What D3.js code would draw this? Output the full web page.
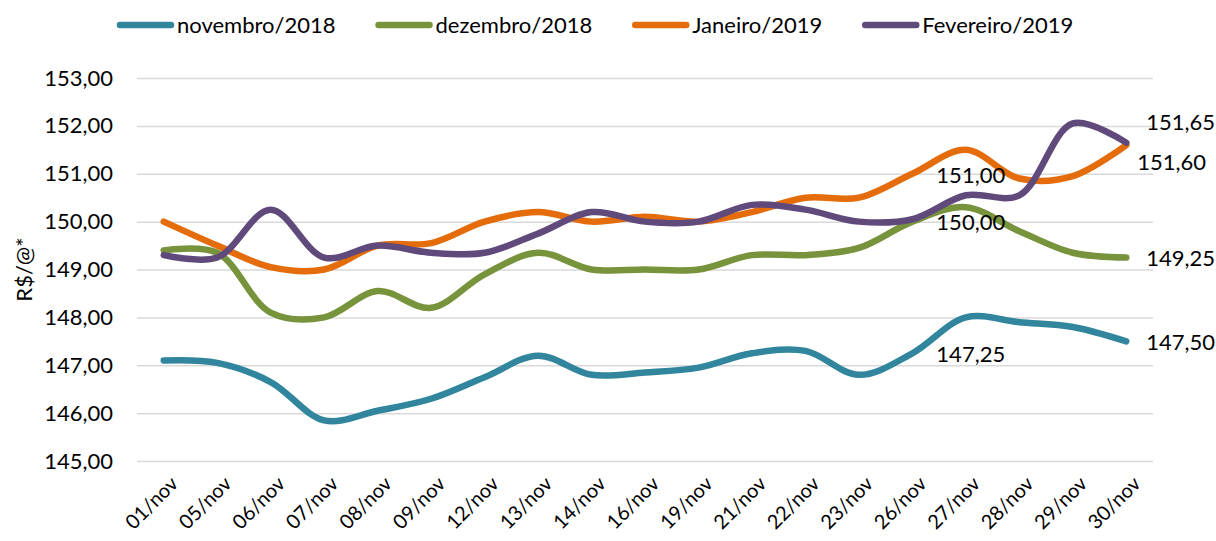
<!DOCTYPE html>
<html>
<head>
<meta charset="utf-8">
<script src="https://cdn.jsdelivr.net/npm/d3@7"></script>
<style>
  body { margin: 0; background: #fff; }
  svg text { font-family: Lato, "Noto Sans", sans-serif; fill: #000; }
</style>
</head>
<body>
<div id="chart"></div>
<script>
// categories (x axis)
var dias = ["01/nov", "05/nov", "06/nov", "07/nov", "08/nov", "09/nov", "12/nov", "13/nov", "14/nov", "16/nov",
    "19/nov", "21/nov", "22/nov", "23/nov", "26/nov", "27/nov", "28/nov", "29/nov", "30/nov"];

// series values, R$/@
var novembro2018 = [147.10, 147.05, 146.65, 145.85, 146.05, 146.30, 146.75, 147.20, 146.80, 146.85,
    146.95, 147.25, 147.30, 146.80, 147.25, 148.00, 147.90, 147.80, 147.50];
var dezembro2018 = [149.40, 149.35, 148.10, 148.00, 148.55, 148.20, 148.90, 149.35, 149.00, 149.00,
    149.00, 149.30, 149.30, 149.45, 150.00, 150.30, 149.80, 149.35, 149.25];
var janeiro2019 = [150.00, 149.50, 149.05, 149.00, 149.50, 149.55, 150.00, 150.20, 150.00, 150.10,
    150.00, 150.20, 150.50, 150.50, 151.00, 151.50, 150.90, 150.95, 151.60];
var fevereiro2019 = [149.30, 149.25, 150.25, 149.25, 149.50, 149.35, 149.35, 149.75, 150.20, 150.00,
    150.00, 150.35, 150.25, 150.00, 150.05, 150.55, 150.55, 152.05, 151.65];

// y tick values
var yTicks = [145, 146, 147, 148, 149, 150, 151, 152, 153];

var series = [
    { name: "novembro/2018", values: novembro2018, color: "#31859C" },
    { name: "dezembro/2018", values: dezembro2018, color: "#77933C" },
    { name: "Janeiro/2019", values: janeiro2019, color: "#E46C0A" },
    { name: "Fevereiro/2019", values: fevereiro2019, color: "#604A7B" }
];

// which points carry a data label (series index, point index, offsets)
var rotulos = [
    { s: 2, i: 14, dx: 24, dy: 2 },
    { s: 1, i: 14, dx: 24, dy: 1 },
    { s: 0, i: 14, dx: 24, dy: 1 },
    { s: 3, i: 18, dx: 20, dy: -20 },
    { s: 2, i: 18, dx: 11, dy: 17 },
    { s: 1, i: 18, dx: 20, dy: 1 },
    { s: 0, i: 18, dx: 20, dy: 1 }
];

var W = 1216, H = 541;
var margin = { left: 137, right: 1153, top: 78, bottom: 461 };
var fonte = "Lato, 'Noto Sans', sans-serif";

var br = d3.formatLocale({ decimal: ",", thousands: ".", grouping: [3], currency: ["R$", ""] });
var fmt = br.format(".2f");

var svg = d3.select("#chart").append("svg")
    .attr("width", W)
    .attr("height", H);

var x = d3.scalePoint()
    .domain(dias)
    .range([margin.left, margin.right])
    .padding(0.5);

var y = d3.scaleLinear()
    .domain([145, 153])
    .range([margin.bottom, margin.top]);

// Y axis with gridlines
var gy = svg.append("g")
    .attr("transform", "translate(" + margin.left + ",0)")
    .call(d3.axisLeft(y).tickValues(yTicks).tickFormat(fmt)
        .tickSize(-(margin.right - margin.left)).tickPadding(24));
gy.select(".domain").remove();
gy.selectAll(".tick line").attr("stroke", "#d9d9d9").attr("stroke-width", 1.5);
gy.selectAll(".tick text").attr("font-size", 22).attr("font-family", fonte);

// X axis
var gx = svg.append("g")
    .attr("transform", "translate(0," + margin.bottom + ")")
    .call(d3.axisBottom(x).tickSize(0));
gx.select(".domain").remove();
gx.selectAll(".tick text")
    .attr("font-size", 20)
    .attr("font-family", fonte)
    .attr("y", 0)
    .attr("dy", 0)
    .attr("transform", "translate(15,24)rotate(-45)")
    .style("text-anchor", "end");

// axis title
svg.append("text")
    .attr("transform", "translate(32," + ((margin.top + margin.bottom) / 2) + ")rotate(-90)")
    .attr("text-anchor", "middle")
    .attr("font-size", 22)
    .text("R$/@*");

// lines
var line = d3.line()
    .x(function (d, i) { return x(dias[i]); })
    .y(function (d) { return y(d); })
    .curve(d3.curveCatmullRom.alpha(0.5));

svg.selectAll(".serie")
    .data(series)
    .enter()
    .append("path")
    .attr("class", "serie")
    .attr("fill", "none")
    .attr("stroke", function (d) { return d.color; })
    .attr("stroke-width", 6.5)
    .attr("stroke-linecap", "round")
    .attr("stroke-linejoin", "round")
    .attr("d", function (d) { return line(d.values); });

// data labels
svg.selectAll(".rotulo")
    .data(rotulos)
    .enter()
    .append("text")
    .attr("class", "rotulo")
    .attr("x", function (d) { return x(dias[d.i]) + d.dx; })
    .attr("y", function (d) { return y(series[d.s].values[d.i]) + d.dy; })
    .attr("dy", "0.35em")
    .attr("font-size", 22)
    .text(function (d) { return fmt(series[d.s].values[d.i]); });

// legend
var legend = svg.append("g").attr("transform", "translate(117,25)");
var lx = 0;
series.forEach(function (s) {
    var g = legend.append("g").attr("transform", "translate(" + lx + ",0)");
    g.append("line")
        .attr("x1", 3).attr("x2", 54)
        .attr("y1", 0).attr("y2", 0)
        .attr("stroke", s.color)
        .attr("stroke-width", 6.5)
        .attr("stroke-linecap", "round");
    var t = g.append("text")
        .attr("x", 60)
        .attr("dy", "0.35em")
        .attr("font-size", 22)
        .text(s.name);
    lx += 60 + t.node().getComputedTextLength() + 40;
});
</script>
</body>
</html>
